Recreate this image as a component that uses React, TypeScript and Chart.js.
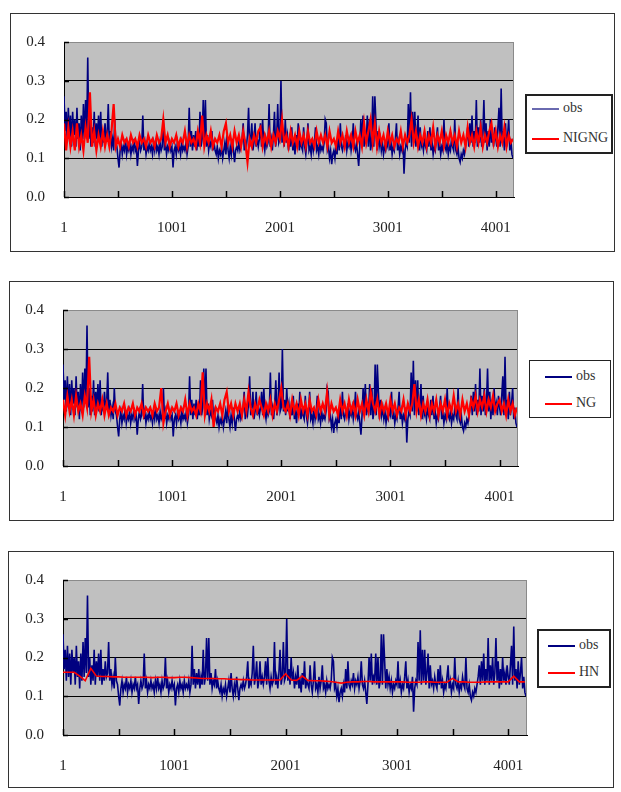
import React, { useEffect, useRef } from "react";
import { Chart, registerables } from "chart.js";

Chart.register(...registerables);

// ---------- data ----------
const X_MIN = 1;
const X_MAX = 4170;
const X_TICKS = [1, 501, 1001, 1501, 2001, 2501, 3001, 3501, 4001];
const X_LABELS = ["1", "1001", "2001", "3001", "4001"];
const Y_TICKS = [0, 0.1, 0.2, 0.3, 0.4];

// observed series, sampled every 10 observations starting at 1
const OBS_STEP = 10;
const obs = [
  0.26, 0.17, 0.22, 0.14, 0.23, 0.15, 0.21, 0.13, 0.22, 0.16, 0.2, 0.13, 0.23, 0.15, 0.19, 0.12, 0.21, 0.14, 0.24, 0.15,
  0.25, 0.16, 0.36, 0.15, 0.2, 0.13, 0.18, 0.14, 0.22, 0.13, 0.19, 0.15, 0.21, 0.14, 0.22, 0.13, 0.17, 0.14, 0.19, 0.15,
  0.16, 0.24, 0.14, 0.17, 0.13, 0.15, 0.12, 0.2, 0.14, 0.13, 0.1, 0.076, 0.12, 0.14, 0.11, 0.13, 0.12, 0.15, 0.11, 0.13,
  0.12, 0.14, 0.11, 0.13, 0.12, 0.15, 0.12, 0.13, 0.08, 0.12, 0.14, 0.12, 0.13, 0.21, 0.12, 0.14, 0.11, 0.13, 0.12, 0.14,
  0.12, 0.13, 0.11, 0.14, 0.12, 0.15, 0.12, 0.13, 0.11, 0.14, 0.12, 0.13, 0.2, 0.12, 0.14, 0.11, 0.13, 0.12, 0.14, 0.12,
  0.13, 0.076, 0.12, 0.13, 0.11, 0.14, 0.12, 0.13, 0.11, 0.14, 0.12, 0.13, 0.12, 0.14, 0.11, 0.13, 0.23, 0.13, 0.17, 0.12,
  0.16, 0.13, 0.17, 0.12, 0.15, 0.13, 0.22, 0.13, 0.15, 0.25, 0.14, 0.25, 0.13, 0.16, 0.12, 0.14, 0.13, 0.17, 0.12, 0.14,
  0.12, 0.11, 0.13, 0.1, 0.12, 0.11, 0.13, 0.1, 0.12, 0.14, 0.11, 0.16, 0.12, 0.1, 0.13, 0.11, 0.15, 0.12, 0.09, 0.12,
  0.13, 0.12, 0.14, 0.12, 0.13, 0.15, 0.19, 0.12, 0.14, 0.13, 0.16, 0.23, 0.13, 0.15, 0.19, 0.12, 0.14, 0.19, 0.13, 0.15,
  0.13, 0.15, 0.19, 0.13, 0.2, 0.14, 0.12, 0.15, 0.13, 0.14, 0.24, 0.13, 0.15, 0.12, 0.16, 0.22, 0.13, 0.15, 0.24, 0.14,
  0.15, 0.3, 0.14, 0.17, 0.13, 0.2, 0.14, 0.16, 0.12, 0.15, 0.13, 0.18, 0.12, 0.14, 0.11, 0.16, 0.13, 0.19, 0.12, 0.14,
  0.13, 0.12, 0.18, 0.13, 0.11, 0.14, 0.19, 0.12, 0.13, 0.11, 0.15, 0.12, 0.14, 0.18, 0.12, 0.13, 0.11, 0.14, 0.12, 0.13,
  0.12, 0.14, 0.2, 0.19, 0.12, 0.13, 0.1, 0.12, 0.085, 0.11, 0.12, 0.1, 0.13, 0.11, 0.17, 0.12, 0.19, 0.13, 0.12, 0.14,
  0.13, 0.16, 0.12, 0.14, 0.13, 0.15, 0.12, 0.14, 0.19, 0.13, 0.12, 0.14, 0.11, 0.08, 0.13, 0.2, 0.14, 0.21, 0.13, 0.15,
  0.14, 0.21, 0.13, 0.2, 0.12, 0.14, 0.26, 0.13, 0.26, 0.19, 0.12, 0.17, 0.13, 0.15, 0.12, 0.14, 0.11, 0.13, 0.12, 0.14,
  0.13, 0.19, 0.12, 0.14, 0.11, 0.13, 0.12, 0.15, 0.19, 0.12, 0.14, 0.11, 0.13, 0.12, 0.15, 0.06, 0.12, 0.14, 0.13, 0.24,
  0.14, 0.27, 0.13, 0.22, 0.14, 0.22, 0.13, 0.16, 0.21, 0.12, 0.18, 0.13, 0.14, 0.12, 0.15, 0.13, 0.12, 0.17, 0.13, 0.18,
  0.12, 0.14, 0.11, 0.13, 0.12, 0.15, 0.18, 0.12, 0.14, 0.11, 0.13, 0.12, 0.2, 0.13, 0.12, 0.14, 0.11, 0.13, 0.12, 0.15,
  0.13, 0.12, 0.2, 0.12, 0.11, 0.13, 0.1, 0.09, 0.11, 0.1, 0.12, 0.11, 0.13, 0.15, 0.18, 0.13, 0.19, 0.14, 0.21, 0.13,
  0.17, 0.14, 0.25, 0.13, 0.18, 0.14, 0.2, 0.13, 0.16, 0.25, 0.14, 0.19, 0.12, 0.17, 0.13, 0.2, 0.14, 0.16, 0.13, 0.18,
  0.15, 0.13, 0.18, 0.23, 0.13, 0.28, 0.14, 0.17, 0.12, 0.19, 0.13, 0.16, 0.2, 0.12, 0.15, 0.11, 0.1,
];

// model fits, sampled every 20 observations starting at 1
const MODEL_STEP = 20;
const nigng = [
  0.19, 0.12, 0.18, 0.13, 0.17, 0.12, 0.19, 0.13, 0.16, 0.12, 0.18, 0.14, 0.27, 0.13, 0.17, 0.12, 0.16, 0.13, 0.17, 0.13,
  0.16, 0.13, 0.17, 0.24, 0.13, 0.15, 0.13, 0.16, 0.14, 0.15, 0.13, 0.16, 0.14, 0.15, 0.13, 0.16, 0.14, 0.15, 0.13, 0.16,
  0.14, 0.15, 0.13, 0.16, 0.14, 0.15, 0.2, 0.14, 0.16, 0.13, 0.15, 0.14, 0.16, 0.13, 0.15, 0.14, 0.17, 0.13, 0.16, 0.14,
  0.15, 0.13, 0.17, 0.14, 0.21, 0.13, 0.16, 0.14, 0.17, 0.13, 0.15, 0.14, 0.16, 0.13, 0.17, 0.19, 0.14, 0.16, 0.13, 0.17,
  0.14, 0.16, 0.13, 0.17, 0.14, 0.09, 0.15, 0.13, 0.16, 0.14, 0.17, 0.18, 0.13, 0.16, 0.14, 0.17, 0.13, 0.16, 0.14, 0.17,
  0.15, 0.2, 0.14, 0.16, 0.13, 0.17, 0.14, 0.16, 0.13, 0.17, 0.14, 0.16, 0.13, 0.17, 0.14, 0.15, 0.13, 0.17, 0.14, 0.16,
  0.14, 0.16, 0.13, 0.17, 0.14, 0.15, 0.13, 0.17, 0.14, 0.16, 0.13, 0.17, 0.14, 0.16, 0.13, 0.17, 0.14, 0.16, 0.13, 0.19,
  0.14, 0.17, 0.2, 0.14, 0.19, 0.13, 0.17, 0.14, 0.16, 0.13, 0.17, 0.14, 0.16, 0.13, 0.15, 0.14, 0.17, 0.13, 0.16, 0.14,
  0.16, 0.2, 0.14, 0.17, 0.13, 0.16, 0.14, 0.17, 0.13, 0.16, 0.14, 0.18, 0.13, 0.16, 0.14, 0.17, 0.13, 0.16, 0.14, 0.17,
  0.14, 0.16, 0.13, 0.17, 0.14, 0.16, 0.13, 0.18, 0.14, 0.16, 0.13, 0.17, 0.14, 0.18, 0.13, 0.16, 0.14, 0.17, 0.19, 0.14,
  0.17, 0.13, 0.16, 0.14, 0.18, 0.13, 0.16, 0.14, 0.15,
];
const ng = [
  0.17, 0.13, 0.18, 0.14, 0.17, 0.13, 0.18, 0.14, 0.16, 0.13, 0.18, 0.15, 0.28, 0.14, 0.17, 0.13, 0.16, 0.14, 0.17, 0.13,
  0.16, 0.13, 0.15, 0.14, 0.16, 0.13, 0.15, 0.14, 0.16, 0.13, 0.15, 0.14, 0.16, 0.13, 0.15, 0.14, 0.16, 0.13, 0.15, 0.14,
  0.15, 0.13, 0.16, 0.14, 0.15, 0.2, 0.11, 0.14, 0.16, 0.13, 0.15, 0.14, 0.16, 0.13, 0.15, 0.14, 0.17, 0.13, 0.16, 0.14,
  0.15, 0.13, 0.16, 0.14, 0.24, 0.13, 0.16, 0.14, 0.17, 0.1, 0.15, 0.14, 0.16, 0.13, 0.17, 0.19, 0.14, 0.16, 0.13, 0.16,
  0.14, 0.16, 0.13, 0.17, 0.14, 0.19, 0.15, 0.13, 0.16, 0.14, 0.17, 0.15, 0.13, 0.16, 0.14, 0.17, 0.13, 0.16, 0.14, 0.17,
  0.2, 0.15, 0.14, 0.16, 0.13, 0.17, 0.14, 0.16, 0.13, 0.17, 0.14, 0.16, 0.13, 0.17, 0.14, 0.15, 0.13, 0.17, 0.14, 0.16,
  0.14, 0.19, 0.13, 0.16, 0.14, 0.15, 0.13, 0.17, 0.14, 0.16, 0.13, 0.17, 0.14, 0.16, 0.13, 0.17, 0.14, 0.16, 0.13, 0.17,
  0.14, 0.19, 0.16, 0.14, 0.17, 0.13, 0.16, 0.14, 0.16, 0.13, 0.17, 0.14, 0.16, 0.13, 0.15, 0.14, 0.17, 0.13, 0.16, 0.14,
  0.16, 0.21, 0.14, 0.17, 0.13, 0.16, 0.14, 0.17, 0.13, 0.16, 0.14, 0.17, 0.13, 0.16, 0.14, 0.17, 0.13, 0.16, 0.14, 0.18,
  0.14, 0.16, 0.13, 0.17, 0.14, 0.16, 0.13, 0.17, 0.15, 0.18, 0.14, 0.17, 0.15, 0.18, 0.14, 0.17, 0.15, 0.18, 0.14, 0.16,
  0.17, 0.14, 0.16, 0.13, 0.17, 0.14, 0.16, 0.13, 0.15,
];

// HN fit, sampled every 50 observations starting at 1
const HN_STEP = 50;
const hn = [
  0.162, 0.162, 0.162, 0.152, 0.14, 0.172, 0.152, 0.151, 0.151, 0.15,
  0.15, 0.149, 0.149, 0.149, 0.149, 0.149, 0.148, 0.149, 0.149, 0.148,
  0.148, 0.149, 0.149, 0.148, 0.147, 0.146, 0.146, 0.146, 0.145, 0.145,
  0.144, 0.144, 0.143, 0.143, 0.142, 0.142, 0.142, 0.142, 0.142, 0.142,
  0.158, 0.142, 0.141, 0.152, 0.141, 0.14, 0.14, 0.139, 0.138, 0.136,
  0.134, 0.136, 0.137, 0.137, 0.138, 0.138, 0.137, 0.137, 0.137, 0.137,
  0.137, 0.137, 0.136, 0.136, 0.136, 0.137, 0.137, 0.136, 0.136, 0.136,
  0.146, 0.137, 0.137, 0.136, 0.136, 0.136, 0.137, 0.137, 0.137, 0.137,
  0.137, 0.152, 0.137, 0.137,
];

// ---------- helpers ----------
const toPoints = (values: number[], step: number) =>
  values.map((y, i) => ({ x: X_MIN + i * step, y }));

const FONT = "'Liberation Serif', 'Times New Roman', serif";

type Legend = {
  left: number; top: number; width: number; height: number; border: number;
  lineLeft: number; lineLen: number; textLeft: number; row1: number; row2: number;
  swatch: number; obsColor: string;
};

type PanelCfg = {
  left: number; top: number; width: number; height: number;
  plot: { left: number; top: number; right: number; bottom: number };
  legend: Legend;
  model: string; modelValues: number[]; modelStep: number; modelWidth: number;
};

const PANELS: PanelCfg[] = [
  {
    left: 10, top: 13, width: 605, height: 239,
    plot: { left: 64, top: 40, right: 514, bottom: 197 },
    legend: { left: 525, top: 94, width: 88, height: 60, border: 2, lineLeft: 532, lineLen: 27, textLeft: 563, row1: 108, row2: 138, swatch: 2, obsColor: "#6a6ab0" },
    model: "NIGNG", modelValues: nigng, modelStep: MODEL_STEP, modelWidth: 2.2,
  },
  {
    left: 9, top: 281, width: 605, height: 240,
    plot: { left: 63, top: 308, right: 518, bottom: 466 },
    legend: { left: 529, top: 360, width: 82, height: 58, border: 1, lineLeft: 545, lineLen: 27, textLeft: 576, row1: 376, row2: 403, swatch: 2, obsColor: "#000080" },
    model: "NG", modelValues: ng, modelStep: MODEL_STEP, modelWidth: 2.2,
  },
  {
    left: 8, top: 551, width: 606, height: 237,
    plot: { left: 63, top: 577, right: 527, bottom: 735 },
    legend: { left: 537, top: 629, width: 74, height: 59, border: 2, lineLeft: 548, lineLen: 27, textLeft: 579, row1: 645, row2: 672, swatch: 2, obsColor: "#000080" },
    model: "HN", modelValues: hn, modelStep: HN_STEP, modelWidth: 1.6,
  },
];

const decorPlugin = {
  id: "plotDecor",
  beforeDraw(chart: any) {
    const { ctx, chartArea: a } = chart;
    ctx.save();
    ctx.fillStyle = "#c0c0c0";
    ctx.fillRect(a.left, a.top, a.right - a.left, a.bottom - a.top);
    ctx.restore();
  },
  afterDraw(chart: any) {
    const { ctx, chartArea: a } = chart;
    const xs = chart.scales.x;
    const ys = chart.scales.y;
    ctx.save();
    // gray plot-area border (top / right)
    ctx.strokeStyle = "#8a8a8a";
    ctx.lineWidth = 1;
    ctx.beginPath();
    ctx.moveTo(a.left, a.top + 0.5);
    ctx.lineTo(a.right - 0.5, a.top + 0.5);
    ctx.lineTo(a.right - 0.5, a.bottom);
    ctx.stroke();
    // inward tick marks
    ctx.strokeStyle = "#000";
    ctx.lineWidth = 1.5;
    ctx.beginPath();
    for (const t of xs.ticks) {
      const px = Math.round(xs.getPixelForValue(t.value)) + 0.5;
      ctx.moveTo(px, a.bottom);
      ctx.lineTo(px, a.bottom - 6);
    }
    for (const t of ys.ticks) {
      const py = Math.round(ys.getPixelForValue(t.value)) + 0.5;
      ctx.moveTo(a.left, py);
      ctx.lineTo(a.left + 5, py);
    }
    ctx.stroke();
    ctx.restore();
  },
};

function ChartPanel({ cfg }: { cfg: PanelCfg }) {
  const ref = useRef<HTMLCanvasElement | null>(null);
  const cw = cfg.width - 2;
  const ch = cfg.height - 2;
  const innerLeft = cfg.left + 1;
  const innerTop = cfg.top + 1;

  useEffect(() => {
    if (!ref.current) return;
    const yWidth = cfg.plot.left - innerLeft;
    const topPad = cfg.plot.top - innerTop;
    const rightPad = innerLeft + cw - cfg.plot.right;
    const xHeight = innerTop + ch - cfg.plot.bottom;

    const chart = new Chart(ref.current, {
      type: "line",
      data: {
        datasets: [
          {
            label: "obs",
            data: toPoints(obs, OBS_STEP),
            borderColor: "#000080",
            borderWidth: 1.6,
            pointRadius: 0,
            tension: 0,
            order: 2,
          },
          {
            label: cfg.model,
            data: toPoints(cfg.modelValues, cfg.modelStep),
            borderColor: "#ff0000",
            borderWidth: cfg.modelWidth,
            pointRadius: 0,
            tension: 0,
            order: 1,
          },
        ],
      },
      options: {
        responsive: false,
        animation: false,
        devicePixelRatio: 1,
        events: [],
        layout: { padding: { left: 0, top: topPad, right: rightPad, bottom: 0 } },
        plugins: { legend: { display: false }, tooltip: { enabled: false } },
        scales: {
          x: {
            type: "linear",
            min: X_MIN,
            max: X_MAX,
            afterBuildTicks: (scale: any) => {
              scale.ticks = X_TICKS.map((v) => ({ value: v }));
            },
            afterFit: (scale: any) => {
              scale.height = xHeight;
            },
            grid: { display: false, drawTicks: false },
            border: { display: true, color: "#000", width: 1 },
            ticks: {
              autoSkip: false,
              maxRotation: 0,
              minRotation: 0,
              padding: 22,
              color: "#222",
              font: { family: FONT, size: 15 },
              callback: (v: any) => (X_LABELS.includes(String(v)) ? String(v) : ""),
            },
          },
          y: {
            type: "linear",
            min: 0,
            max: 0.4,
            afterBuildTicks: (scale: any) => {
              scale.ticks = Y_TICKS.map((v) => ({ value: v }));
            },
            afterFit: (scale: any) => {
              scale.width = yWidth;
            },
            grid: {
              drawTicks: false,
              lineWidth: 1,
              color: (c: any) => (c.tick && c.tick.value > 0.35 ? "#8a8a8a" : "#000"),
            },
            border: { display: true, color: "#000", width: 1 },
            ticks: {
              padding: 19,
              color: "#222",
              font: { family: FONT, size: 15 },
              callback: (v: any) => Number(v).toFixed(1),
            },
          },
        },
      },
      plugins: [decorPlugin],
    } as any);
    return () => chart.destroy();
  }, [cfg]);

  const lg = cfg.legend;
  const textStyle = (row: number): React.CSSProperties => ({
    position: "absolute",
    left: lg.textLeft,
    top: row - 10,
    height: 20,
    lineHeight: "20px",
    fontFamily: FONT,
    fontSize: 14,
    color: "#333",
    whiteSpace: "nowrap",
  });
  const lineStyle = (row: number, color: string): React.CSSProperties => ({
    position: "absolute",
    left: lg.lineLeft,
    top: row,
    width: lg.lineLen,
    height: lg.swatch,
    backgroundColor: color,
  });

  return (
    <>
      <div
        style={{
          position: "absolute",
          left: cfg.left,
          top: cfg.top,
          width: cfg.width,
          height: cfg.height,
          boxSizing: "border-box",
          border: "1px solid #333",
          background: "#fff",
        }}
      />
      <canvas
        ref={ref}
        width={cw}
        height={ch}
        style={{ position: "absolute", left: innerLeft, top: innerTop, width: cw, height: ch }}
      />
      <div
        style={{
          position: "absolute",
          left: lg.left,
          top: lg.top,
          width: lg.width,
          height: lg.height,
          boxSizing: "border-box",
          border: `${lg.border}px solid #222`,
          background: "#fff",
        }}
      />
      <div style={lineStyle(lg.row1, lg.obsColor)} />
      <div style={textStyle(lg.row1)}>obs</div>
      <div style={lineStyle(lg.row2, "#ff0000")} />
      <div style={textStyle(lg.row2)}>{cfg.model}</div>
    </>
  );
}

export default function App() {
  return (
    <div style={{ position: "absolute", left: 0, top: 0, width: 621, height: 792, background: "#fff" }}>
      {PANELS.map((p) => (
        <ChartPanel key={p.model} cfg={p} />
      ))}
    </div>
  );
}
